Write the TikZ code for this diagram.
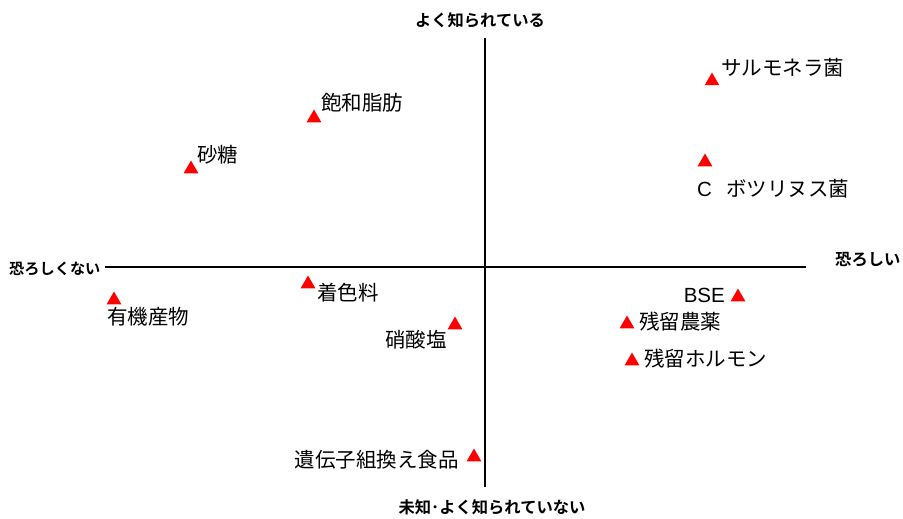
\documentclass[tikz,border=0pt]{standalone}
\usepackage{fontspec}
\usetikzlibrary{shapes.geometric}
\newfontfamily\jpfont{Noto Sans CJK JP}
\newfontfamily\jpbold{Noto Sans CJK JP Bold}
\newfontfamily\latfont{Liberation Sans}
\begin{document}
\begin{tikzpicture}[x=1pt,y=-1pt,
  tri/.style={regular polygon,regular polygon sides=3,fill=red,draw=none,minimum size=17pt,inner sep=0pt,yshift=-2pt},
  lbl/.style={inner sep=0pt,font=\jpfont\fontsize{20.5}{20.5}\selectfont},
  axlbl/.style={inner sep=0pt,font=\jpbold\fontsize{16.3}{16.3}\selectfont},
  axis/.style={line width=2.2pt,black}]
\useasboundingbox (0,0) rectangle (903,519);
\coordinate (L) at (105,267);
\coordinate (R) at (806,267);
\coordinate (T) at (485,38);
\coordinate (B) at (485,487);
\draw[axis] (L) -- (R);
\draw[axis] (T) -- (B);
\node[axlbl] (top) at (480,20) {よく知られている};
\node[axlbl] (bot) at (492,507) {未知{\fontsize{16.3}{16.3}\selectfont ･}よく知られていない};
\node[axlbl,anchor=west,font=\jpbold\fontsize{15.2}{15.2}\selectfont] (left) at (9,269) {恐ろしくない};
\node[axlbl,anchor=west] (right) at (835,260) {恐ろしい};

\node[tri] (t1) at (712,79) {};
\node[lbl,anchor=west] (l1) at (721,68) {サルモネラ菌};
\node[tri] (t2) at (705,160) {};
\node[lbl,anchor=west] (l2) at (697,189) {{\latfont C}\hspace{14pt}ボツリヌス菌};
\node[tri] (t3) at (314,116) {};
\node[lbl,anchor=west] (l3) at (321,103) {飽和脂肪};
\node[tri] (t4) at (191,167) {};
\node[lbl,anchor=west] (l4) at (197,155) {砂糖};
\node[tri] (t5) at (114,298) {};
\node[lbl,anchor=west] (l5) at (107,317) {有機産物};
\node[tri] (t6) at (308,282) {};
\node[lbl,anchor=west] (l6) at (317,293) {着色料};
\node[tri] (t7) at (455,323) {};
\node[lbl,anchor=west] (l7) at (385,340) {硝酸塩};
\node[tri] (t8) at (738,295) {};
\node[lbl,anchor=east] (l8) at (725,295) {\latfont BSE};
\node[tri] (t9) at (627,322) {};
\node[lbl,anchor=west] (l9) at (639,322) {残留農薬};
\node[tri] (t10) at (632,359) {};
\node[lbl,anchor=west] (l10) at (644,359) {残留ホルモン};
\node[tri] (t11) at (474,455) {};
\node[lbl,anchor=east] (l11) at (459,460) {遺伝子組換え食品};
\end{tikzpicture}
\end{document}
